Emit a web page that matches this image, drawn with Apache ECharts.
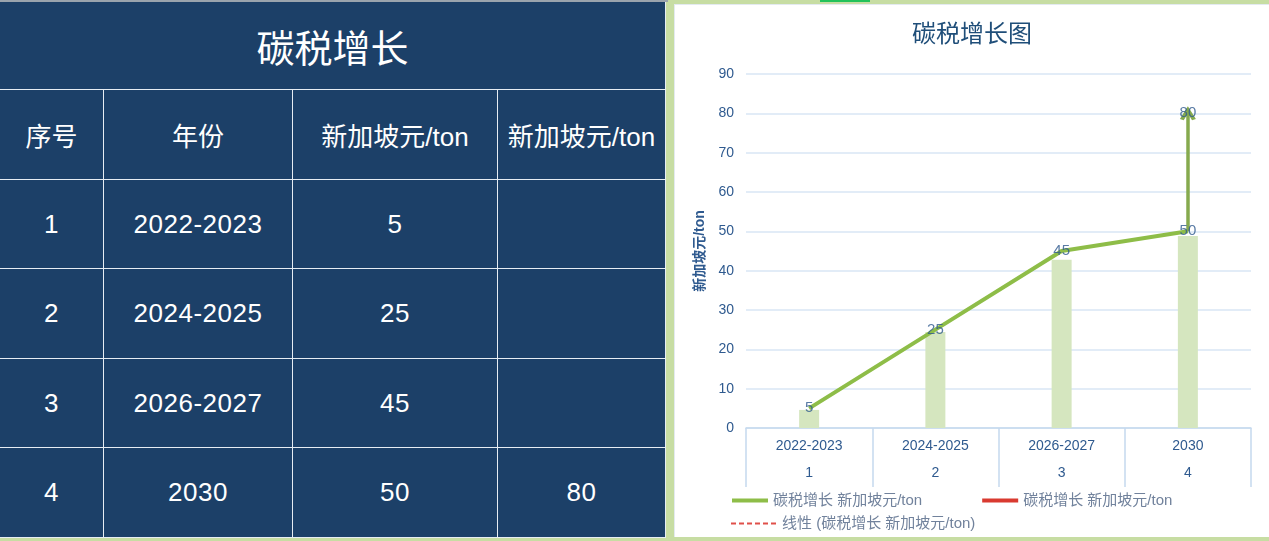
<!DOCTYPE html>
<html>
<head>
<meta charset="utf-8">
<script src="https://cdn.jsdelivr.net/npm/echarts@6/dist/echarts.min.js"></script>
<style>
  html, body { margin: 0; padding: 0; }
  body { width: 1269px; height: 541px; background: #c7dda3; position: relative; overflow: hidden;
         font-family: "Liberation Sans", "Noto Sans CJK SC", sans-serif; }
  #topline { position: absolute; left: 0; top: 0; width: 668px; height: 2px; background: #9aa4ad; }
  #topmark { position: absolute; left: 820px; top: 0; width: 50px; height: 2px; background: #22c25a; }
  #table { position: absolute; left: 0; top: 2px; width: 666px; height: 536px; background: #1c4068; }
  .cell { position: absolute; box-sizing: border-box; display: flex; align-items: center; justify-content: center;
          color: #ffffff; border-right: 1.5px solid #e6edf3; border-bottom: 1.5px solid #e6edf3; white-space: nowrap; }
  .title { font-size: 38px; }
  .head { font-size: 26px; }
  .data { font-size: 26px; letter-spacing: 0.5px; }
  #chart { position: absolute; left: 674px; top: 4px; width: 595px; height: 533px; background: #ffffff;
           box-sizing: border-box; border-left: 1px solid #e3eaf0; border-top: 1px solid #e3eaf0; }
</style>
</head>
<body>
<div id="topline"></div>
<div id="topmark"></div>
<div id="table"></div>
<div id="chart"></div>
<script>
// ---- data ----
const tableTitle = '碳税增长';
const chartTitle = '碳税增长图';
const headers = ['序号', '年份', '新加坡元/ton', '新加坡元/ton'];
const seqs = ['1', '2', '3', '4'];
const years = ['2022-2023', '2024-2025', '2026-2027', '2030'];
const prices = [5, 25, 45, 50];
const future = [null, null, null, 80];
const barValues = [4.6, 24.4, 42.8, 48.8];
const yAxisName = '新加坡元/ton';
const legendNames = ['碳税增长 新加坡元/ton', '碳税增长 新加坡元/ton ', '线性 (碳税增长 新加坡元/ton)'];

// ---- table (HTML) ----
const colX = [0, 104, 293, 498, 666];
const rowY = [0, 88, 178, 267, 357, 446, 536];
const tbl = document.getElementById('table');
function addCell(text, c0, c1, r, cls) {
  const d = document.createElement('div');
  d.className = 'cell ' + cls;
  d.style.left = colX[c0] + 'px';
  d.style.width = (colX[c1] - colX[c0]) + 'px';
  d.style.top = rowY[r] + 'px';
  d.style.height = (rowY[r + 1] - rowY[r]) + 'px';
  d.textContent = text;
  tbl.appendChild(d);
}
addCell(tableTitle, 0, 4, 0, 'title');
headers.forEach((h, i) => addCell(h, i, i + 1, 1, 'head'));
years.forEach((y, r) => {
  const vals = [seqs[r], y, String(prices[r]), future[r] == null ? '' : String(future[r])];
  vals.forEach((v, c) => addCell(v, c, c + 1, r + 2, 'data'));
});

// ---- chart ----
const chart = echarts.init(document.getElementById('chart'));
const blue = '#2f5a8f';
const font = '"Liberation Sans", "Noto Sans CJK SC", sans-serif';
const labelPoints = prices.map((v, i) => [years[i], v]);
future.forEach((v, i) => { if (v != null) labelPoints.push([years[i], v]); });
const arrowIdx = future.findIndex(v => v != null);

chart.setOption({
  animation: false,
  title: {
    text: chartTitle, left: 'center', top: 13,
    textStyle: { color: '#1f4e79', fontSize: 24, fontWeight: 'normal', fontFamily: font }
  },
  legend: [
    {
      data: [legendNames[0], legendNames[1]],
      left: 50, top: 483, itemWidth: 36, itemHeight: 14, itemGap: 58,
      textStyle: { color: '#71829c', fontSize: 15, fontFamily: font },
      itemStyle: { opacity: 0 }, lineStyle: { width: 4 }, selectedMode: false
    },
    {
      data: [legendNames[2]],
      left: 50, top: 506, itemWidth: 46, itemHeight: 14,
      textStyle: { color: '#71829c', fontSize: 15, fontFamily: font },
      itemStyle: { opacity: 0 }, lineStyle: { width: 2 }, selectedMode: false
    }
  ],
  grid: { left: 71, right: 18, top: 69, bottom: 109 },
  xAxis: {
    type: 'category',
    data: years,
    axisLine: { lineStyle: { color: '#c5d9ee', width: 1.5 } },
    axisTick: { show: true, length: 59, lineStyle: { color: '#c5d9ee', width: 1.5 } },
    axisLabel: {
      color: blue, fontSize: 14, fontFamily: font, lineHeight: 27, margin: 5,
      formatter: (v, i) => v + '\n' + seqs[i]
    }
  },
  yAxis: {
    type: 'value', min: 0, max: 90, interval: 10,
    name: yAxisName, nameLocation: 'middle', nameGap: 26, nameRotate: 90,
    nameTextStyle: { color: blue, fontSize: 14, fontWeight: 'bold', fontFamily: font },
    axisLine: { show: false }, axisTick: { show: false },
    axisLabel: { color: blue, fontSize: 14, fontFamily: font, margin: 12 },
    splitLine: { lineStyle: { color: '#d9e6f4', width: 1.5 } }
  },
  series: [
    {
      name: 'bars', type: 'bar', data: barValues, barWidth: 20,
      itemStyle: { color: '#d5e6bf' }, silent: true, z: 1
    },
    {
      name: legendNames[0], type: 'line', data: prices, symbol: 'none',
      lineStyle: { color: '#8ebd48', width: 4 }, itemStyle: { color: '#8ebd48' }, z: 3
    },
    {
      name: legendNames[1], type: 'line', data: [], symbol: 'none',
      lineStyle: { color: '#d93a30', width: 4 }, itemStyle: { color: '#d93a30' },
      markLine: {
        silent: true, animation: false,
        symbol: ['none', 'path://M0,9 L5,0 L10,9 L7.6,10 L5,5.2 L2.4,10 Z'],
        symbolSize: [16, 14],
        label: { show: false },
        lineStyle: { color: '#86aa4e', width: 3.5, type: 'solid' },
        data: [[{ coord: [years[arrowIdx], prices[arrowIdx]] }, { coord: [years[arrowIdx], future[arrowIdx]] }]]
      },
      z: 2
    },
    {
      name: legendNames[2], type: 'line', data: [], symbol: 'none',
      lineStyle: { color: '#e0504a', width: 2, type: [5, 3] }, itemStyle: { color: '#e0504a' }
    },
    {
      name: 'labels', type: 'scatter', data: labelPoints, symbolSize: 1,
      itemStyle: { color: 'rgba(0,0,0,0)' }, silent: true, z: 5,
      label: { show: true, position: 'inside', color: blue, fontSize: 15, fontFamily: font,
               formatter: p => String(p.value[1]) }
    }
  ]
});
</script>
</body>
</html>
